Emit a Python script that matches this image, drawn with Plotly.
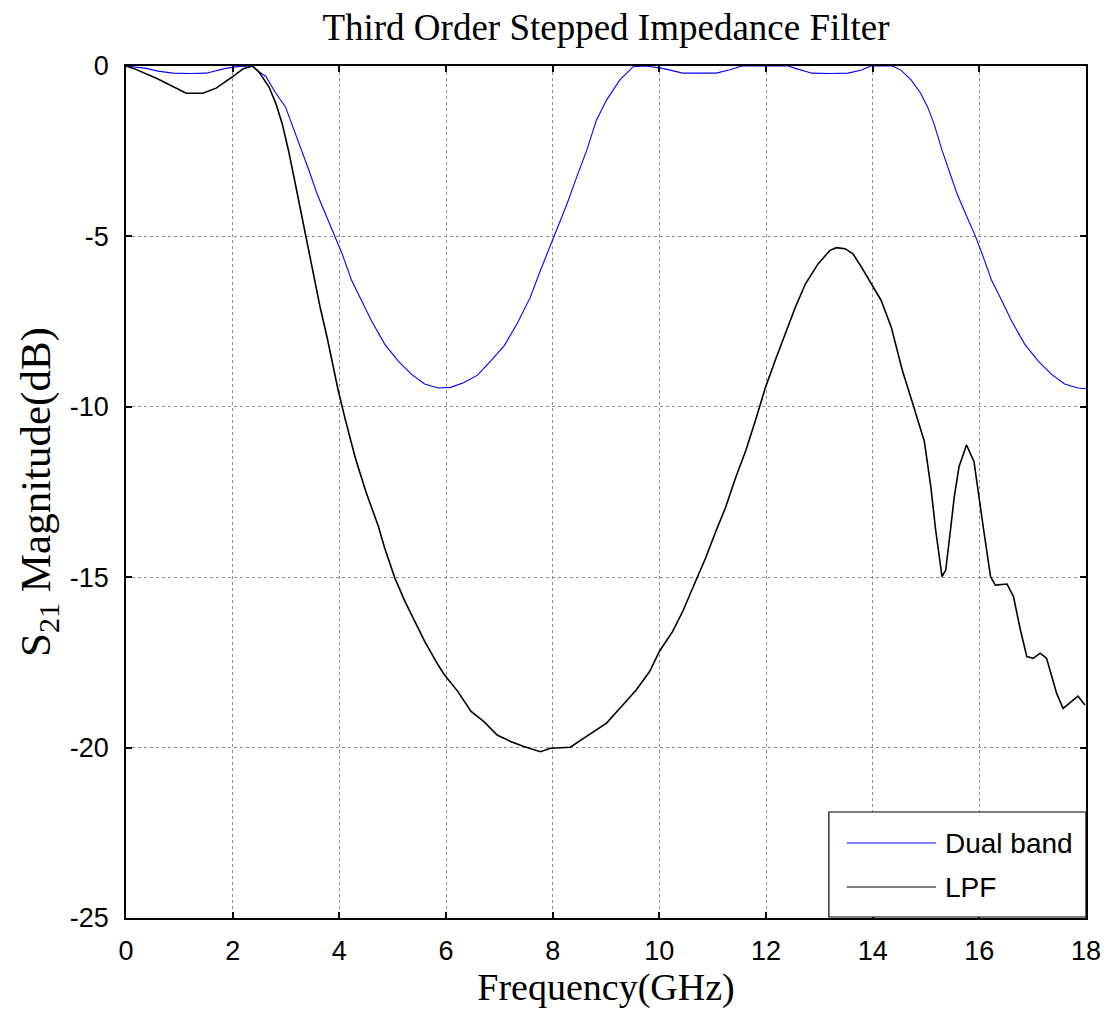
import plotly.graph_objects as go

# ---------------- data ----------------
freq_dual = [0, 0.38, 0.6, 0.88, 1.2, 1.5, 1.87, 2.12, 2.37, 2.49, 2.62, 2.81, 2.99,
             3.18, 3.30, 3.43, 3.58, 3.74, 3.92, 4.05, 4.23, 4.42, 4.60, 4.85, 5.10,
             5.35, 5.60, 5.85, 6.09, 6.34, 6.59, 6.84, 7.09, 7.33, 7.58, 7.77, 7.92,
             8.08, 8.27, 8.45, 8.64, 8.82, 9.01, 9.26, 9.51, 9.75, 10.06, 10.44, 10.75,
             11.06, 11.31, 11.55, 12.0, 12.42, 12.55, 12.86, 13.2, 13.54, 13.79, 13.97,
             14.37, 14.53, 14.72, 14.9, 15.03, 15.15, 15.30, 15.43, 15.58, 15.74, 15.92,
             16.05, 16.23, 16.42, 16.60, 16.85, 17.10, 17.35, 17.60, 17.85, 18.0]
s21_dual = [0, -0.07, -0.15, -0.21, -0.22, -0.21, -0.07, -0.01, 0, -0.17, -0.30, -0.8, -1.2,
            -1.98, -2.47, -3.06, -3.74, -4.33, -4.97, -5.5, -6.29, -6.88, -7.47, -8.16, -8.65,
            -9.04, -9.33, -9.45, -9.43, -9.29, -9.07, -8.65, -8.21, -7.57, -6.79, -6.0, -5.41,
            -4.82, -4.04, -3.26, -2.47, -1.59, -1.0, -0.41, -0.02, 0, -0.07, -0.21, -0.22,
            -0.21, -0.12, 0, 0, 0, -0.07, -0.21, -0.22, -0.21, -0.12, 0,
            0, -0.12, -0.41, -0.8, -1.2, -1.69, -2.47, -3.06, -3.74, -4.33, -4.97,
            -5.5, -6.29, -6.88, -7.47, -8.16, -8.65, -9.04, -9.33, -9.45, -9.47]

freq_lpf = [0, 0.14, 0.57, 0.88, 1.13, 1.44, 1.69, 2.0, 2.2, 2.37, 2.49, 2.68, 2.81, 2.93,
            3.05, 3.18, 3.30, 3.39, 3.52, 3.64, 3.77, 3.89, 3.98, 4.11, 4.3, 4.5, 4.73,
            4.85, 5.04, 5.23, 5.41, 5.60, 5.85, 5.97, 6.22, 6.47, 6.71, 6.96, 7.21, 7.46,
            7.77, 7.96, 8.33, 8.58, 8.82, 9.01, 9.32, 9.57, 9.82, 10.0, 10.25, 10.44,
            10.68, 10.87, 11.06, 11.24, 11.43, 11.62, 11.80, 11.99, 12.17, 12.36, 12.55,
            12.74, 12.98, 13.20, 13.32, 13.48, 13.63, 13.79, 13.97, 14.16, 14.35, 14.55,
            14.73, 14.97, 15.09, 15.18, 15.30, 15.37, 15.46, 15.53, 15.62, 15.76, 15.90,
            15.99, 16.08, 16.21, 16.30, 16.52, 16.64, 16.77, 16.89, 17.01, 17.14, 17.26,
            17.45, 17.57, 17.85, 17.98]
s21_lpf = [0, -0.07, -0.36, -0.6, -0.8, -0.8, -0.65, -0.31, -0.08, 0, -0.17, -0.61, -1.1, -1.7,
           -2.5, -3.5, -4.43, -5.12, -6.10, -7.08, -7.96, -8.84, -9.53, -10.36, -11.5, -12.5, -13.5,
           -14.14, -15.02, -15.71, -16.29, -16.88, -17.57, -17.86, -18.35, -18.94, -19.24, -19.63,
           -19.82, -19.97, -20.12, -20.02, -19.99, -19.73, -19.48, -19.28, -18.74, -18.30, -17.76,
           -17.18, -16.59, -16.0, -15.12, -14.43, -13.65, -12.96, -12.08, -11.29, -10.41, -9.43,
           -8.65, -7.86, -7.08, -6.39, -5.80, -5.41, -5.33, -5.36, -5.51, -5.90, -6.39, -6.88,
           -7.67, -8.9, -9.8, -11.02, -12.34, -13.6, -14.98, -14.79, -13.6, -12.64, -11.75,
           -11.12, -11.61, -12.54, -13.6, -14.98, -15.23, -15.2, -15.57, -16.55, -17.33, -17.38,
           -17.23, -17.38, -18.41, -18.85, -18.49, -18.75]

x_ticks = [0, 2, 4, 6, 8, 10, 12, 14, 16, 18]
x_tick_text = ["0", "2", "4", "6", "8", "10", "12", "14", "16", "18"]
y_ticks = [0, -5, -10, -15, -20, -25]
y_tick_text = ["0", "-5", "-10", "-15", "-20", "-25"]

series_names = ["Dual band", "LPF"]
series_colors = ["#0000ff", "#000000"]

# ---------------- figure ----------------
fig = go.Figure()
fig.add_trace(go.Scatter(x=freq_dual, y=s21_dual, mode="lines", name=series_names[0],
                         line=dict(color=series_colors[0], width=1.1), showlegend=False))
fig.add_trace(go.Scatter(x=freq_lpf, y=s21_lpf, mode="lines", name=series_names[1],
                         line=dict(color=series_colors[1], width=1.6), showlegend=False))

W, H = 1113, 1018
L, R, T, B = 126, 20, 66, 100

sans = "Liberation Sans, Arial, sans-serif"
serif = "Liberation Serif, Times New Roman, serif"

axis_common = dict(
    showline=True, linecolor="black", linewidth=1.5, mirror="ticks",
    ticks="inside", ticklen=6, tickwidth=1.5, tickcolor="black",
    showgrid=True, gridcolor="#8c8c8c", gridwidth=1, griddash="dot",
    zeroline=False, tickfont=dict(family=sans, size=27, color="black"),
)

fig.update_layout(
    width=W, height=H,
    margin=dict(l=L, r=R, t=T, b=B),
    paper_bgcolor="white", plot_bgcolor="white",
    title=dict(text="Third Order Stepped Impedance Filter", x=0.5, xref="paper",
               xanchor="center", y=1 - 27 / H, yanchor="middle", yref="container",
               font=dict(family=serif, size=37, color="black")),
    xaxis=dict(range=[0, 18], tickvals=x_ticks, ticktext=x_tick_text,
               ticklabelstandoff=8,
               title=dict(text="Frequency(GHz)", font=dict(family=serif, size=38, color="black"),
                          standoff=6),
               **axis_common),
    yaxis=dict(range=[-25, 0], tickvals=y_ticks, ticktext=y_tick_text,
               ticklabelstandoff=10,
               title=dict(text="S<sub>21</sub> Magnitude(dB)",
                          font=dict(family=serif, size=43, color="black"), standoff=6),
               **axis_common),
)

# manual legend box (MATLAB style) in paper coordinates
pw = W - L - R
ph = H - T - B
def px2paper_x(px):
    return (px - L) / pw
def px2paper_y(py):
    return (H - B - py) / ph

box_x0, box_x1 = px2paper_x(834), px2paper_x(1093)
box_y0, box_y1 = px2paper_y(917), px2paper_y(812)
fig.add_shape(type="rect", xref="paper", yref="paper", x0=box_x0, x1=box_x1,
              y0=box_y0, y1=box_y1, line=dict(color="black", width=1.2),
              fillcolor="white", layer="above")
for i, (name, col) in enumerate(zip(series_names, series_colors)):
    yy = px2paper_y(843 + i * 44)
    fig.add_shape(type="line", xref="paper", yref="paper",
                  x0=px2paper_x(852), x1=px2paper_x(942), y0=yy, y1=yy,
                  line=dict(color=col, width=1.2), layer="above")
    fig.add_annotation(xref="paper", yref="paper", x=px2paper_x(949), y=yy,
                       xanchor="left", yanchor="middle", text=name, showarrow=False,
                       font=dict(family=sans, size=28, color="black"))

fig.write_html("out.html")
